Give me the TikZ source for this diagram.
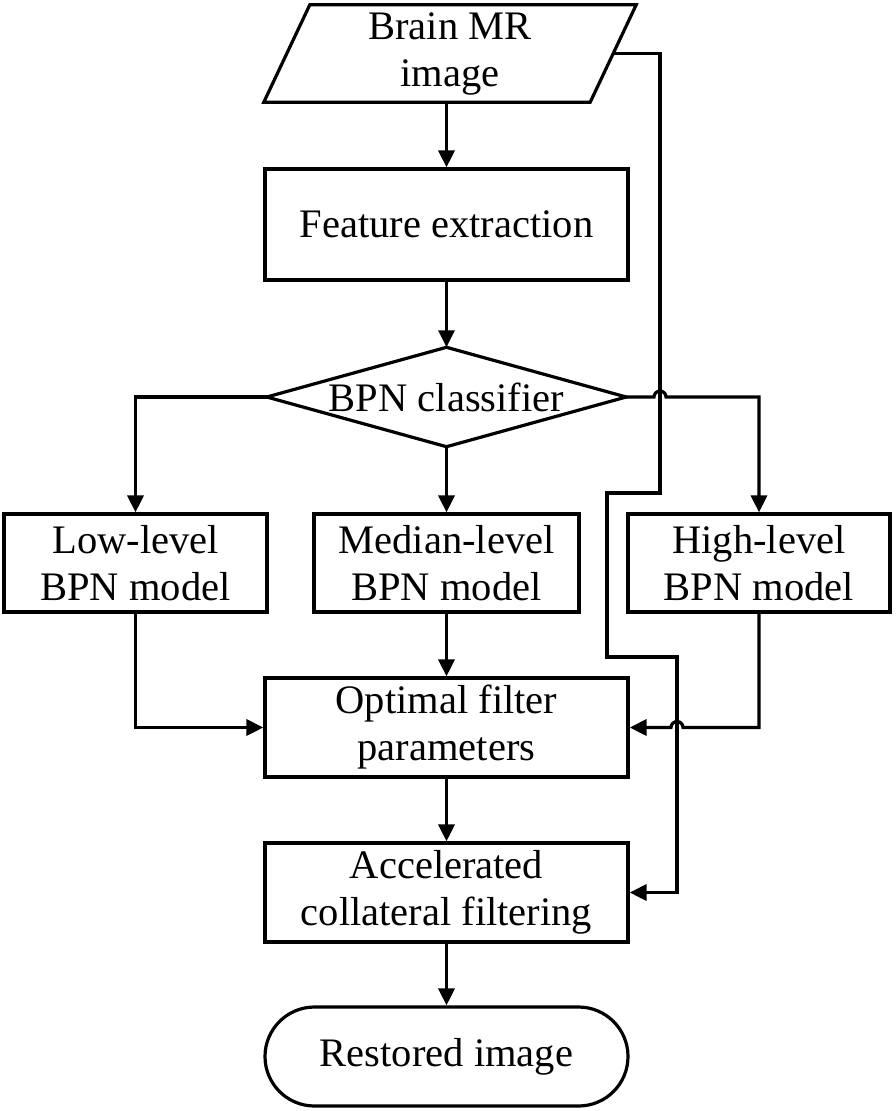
\documentclass[tikz,border=0pt]{standalone}
\usepackage{fontspec}
\setmainfont{Liberation Serif}
\usetikzlibrary{arrows.meta,calc}
\begin{document}
\begin{tikzpicture}[x=1pt,y=-1pt,
  lw/.style={line width=3.2pt,line join=miter},
  txt/.style={inner sep=0pt,align=center,font=\fontsize{40.5pt}{47pt}\selectfont},
  box/.style={txt,draw,lw,rectangle},
  plain/.style={txt},
  arr/.style={lw,-{Triangle[length=17pt,width=16pt]}}]
\useasboundingbox (0,0) rectangle (896,1111);

% input parallelogram
\node[plain,minimum width=326pt,minimum height=97pt] (in) at (450,53.5) {Brain MR\\image};
\draw[lw] ($(in.north west)+(23,0)$) -- ($(in.north east)+(23,0)$)
  -- ($(in.south east)+(-23,0)$) -- ($(in.south west)+(-23,0)$) -- cycle;

\node[box,minimum width=363pt,minimum height=111pt] (feat) at (446.5,224.5) {Feature extraction};

\node[plain,minimum width=359pt,minimum height=99pt] (cls) at (446.5,397) {BPN classifier};
\draw[lw] (cls.west) -- (cls.north) -- (cls.east) -- (cls.south) -- cycle;

\node[box,minimum width=263pt,minimum height=98pt] (low) at (135.5,563) {Low-level\\BPN model};
\node[box,minimum width=265pt,minimum height=98pt] (med) at (446.5,563) {Median-level\\BPN model};
\node[box,minimum width=262pt,minimum height=98pt] (high) at (759,563) {High-level\\BPN model};

\node[box,minimum width=363pt,minimum height=99pt] (opt) at (446.5,727.5) {Optimal filter\\parameters};
\node[box,minimum width=363pt,minimum height=99pt] (acc) at (446.5,892.5) {Accelerated\\collateral filtering};
\node[box,rounded corners=49.5pt,minimum width=363pt,minimum height=99pt] (res) at (446.5,1056.5) {Restored image};

% connectors
\draw[arr] (feat.north |- in.south) -- (feat.north);
\draw[arr] (feat.south) -- (cls.north);
\draw[arr] (cls.south) -- (med.north);
\draw[arr] (cls.west) -| (low.north);
\draw[arr] (cls.east) -- (654,397) arc(180:360:6) -| (high.north);
\draw[arr] (low.south) |- (opt.west);
\draw[arr] (med.south) -- (opt.north);
\draw[arr] (high.south) |- (683,727.5) arc(0:-180:6) -- (opt.east);
\draw[arr] (opt.south) -- (acc.north);
\draw[arr] (acc.south) -- (res.north);

% bypass
\coordinate (b1) at (660,53.5);
\coordinate (b2) at (660,493);
\coordinate (b3) at (607,493);
\coordinate (b4) at (607,657);
\coordinate (b5) at (677,657);
\draw[arr] (in.east) -- (b1) -- (b2) -- (b3) -- (b4) -- (b5) |- (acc.east);
\end{tikzpicture}
\end{document}
